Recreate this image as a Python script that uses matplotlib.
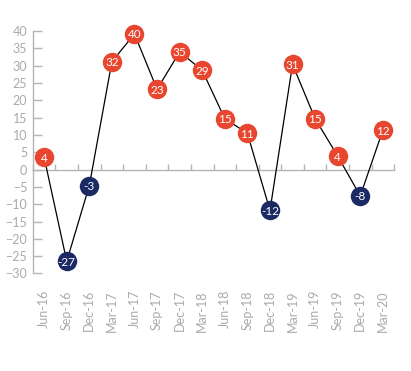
import numpy as np
import matplotlib
matplotlib.use("Agg")
import matplotlib.pyplot as plt

plt.rcParams["font.family"] = ["Lato", "DejaVu Sans"]

quarters = ["Jun-16", "Sep-16", "Dec-16", "Mar-17", "Jun-17", "Sep-17", "Dec-17", "Mar-18",
            "Jun-18", "Sep-18", "Dec-18", "Mar-19", "Jun-19", "Sep-19", "Dec-19", "Mar-20"]
values = [3.5, -26.5, -4.6, 31.2, 39.2, 23.2, 34.0, 28.7,
          14.7, 10.5, -11.8, 30.4, 14.7, 3.9, -7.6, 11.4]
labels = ["4", "-27", "-3", "32", "40", "23", "35", "29",
          "15", "11", "-12", "31", "15", "4", "-8", "12"]

red = "#e8462e"
navy = "#1c2a64"
grey = "#b5b5b5"
text_grey = "#aaaaaa"

fig = plt.figure(figsize=(4.11, 3.71), dpi=100)
ax = fig.add_axes([0.080, 0.263, 0.879, 0.653])

x = np.arange(len(quarters))
ax.plot(x, values, color="black", lw=0.9, zorder=2, clip_on=False)
for xi, v, lab in zip(x, values, labels):
    c = red if v >= 0 else navy
    ax.plot(xi, v, "o", ms=14, color=c, mew=0, zorder=3, clip_on=False)
    ax.text(xi, v, lab, ha="center", va="center_baseline", color="white",
            fontsize=8.5, zorder=4)

ax.set_xlim(-0.5, len(quarters) - 0.5)
ax.set_ylim(-30, 40)
ax.set_yticks(np.arange(-30, 41, 5))
ax.set_xticks(x)
ax.set_xticklabels(quarters, rotation=90)

for s in ["top", "right", "bottom"]:
    ax.spines[s].set_visible(False)
ax.spines["left"].set_color(grey)
ax.spines["left"].set_linewidth(1.0)
ax.tick_params(axis="y", direction="in", length=6.5, width=1.0, color=grey,
               labelcolor=text_grey, labelsize=9, pad=4)
ax.tick_params(axis="x", length=0, labelcolor=text_grey, labelsize=9, pad=12)

# zero line with ticks between quarters
zero = ax.secondary_xaxis(0, transform=ax.transData)
zero.set_xticks(np.arange(-0.5, len(quarters), 1.0))
zero.tick_params(direction="in", length=4.5, width=1.0, color=grey, labelbottom=False)
zero.spines["bottom"].set_color(grey)
zero.spines["bottom"].set_linewidth(1.0)

fig.savefig("out.png", dpi=100)
